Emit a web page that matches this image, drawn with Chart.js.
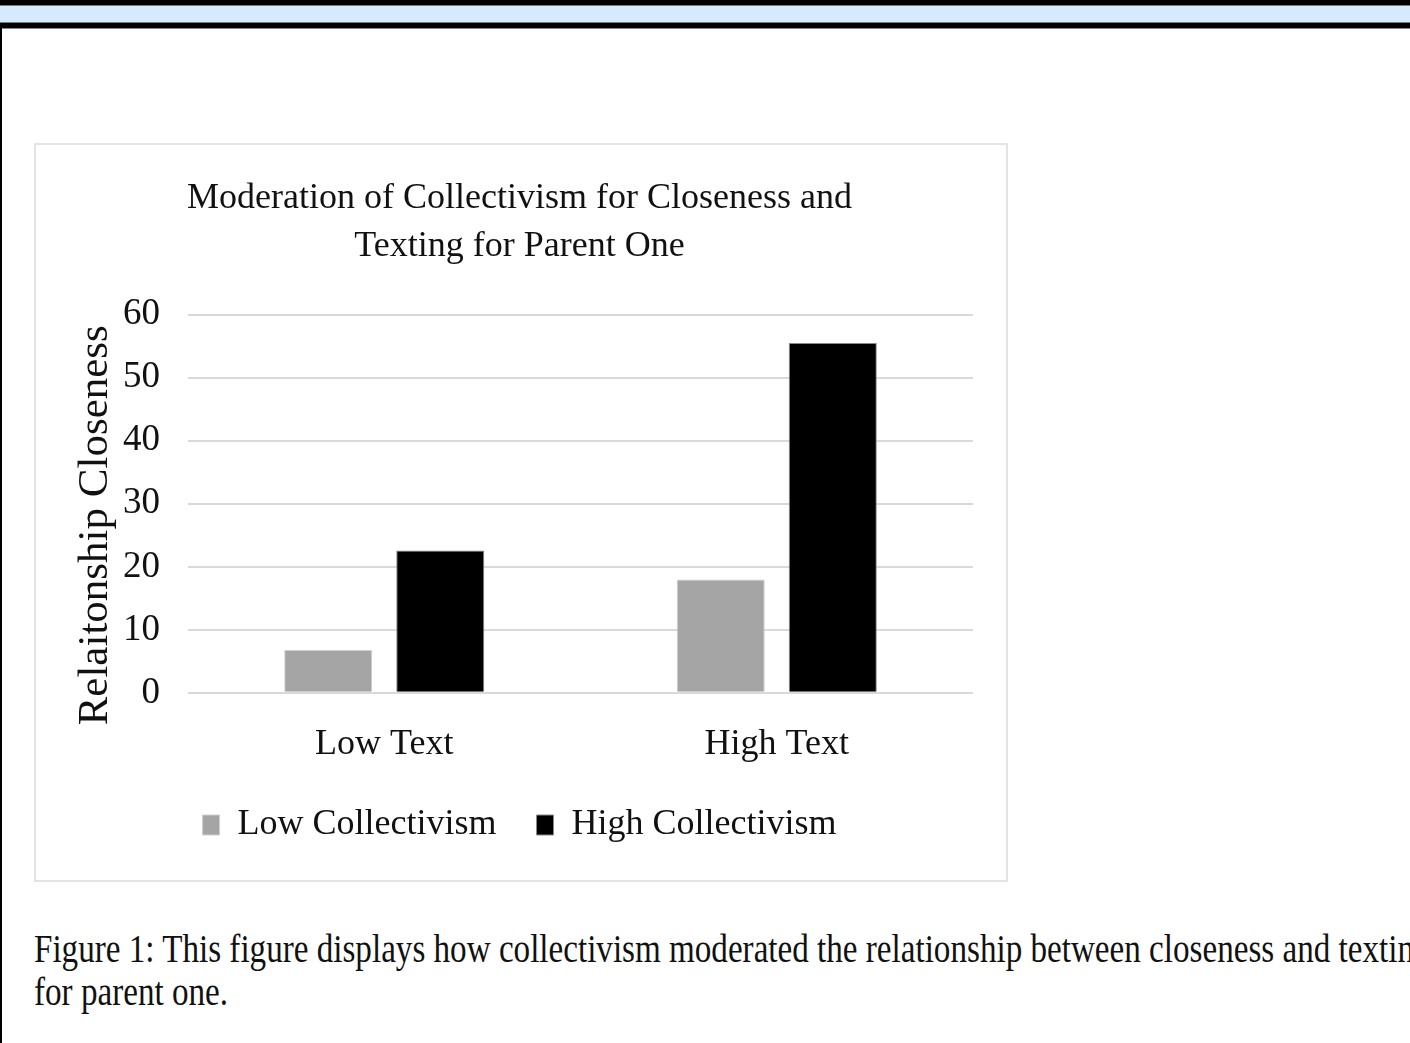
<!DOCTYPE html>
<html>
<head>
<meta charset="utf-8">
<script src="https://cdn.jsdelivr.net/npm/chart.js@4.4.1/dist/chart.umd.min.js"></script>
<style>
  html, body { margin: 0; padding: 0; background: #fff; width: 1410px; height: 1043px; overflow: hidden; position: relative; }
  #topbar { position: absolute; left: 0; top: 0; width: 1410px; height: 28px; background: #000; }
  #topbar .blue { position: absolute; left: 0; top: 5px; width: 1410px; height: 18px; background: #d6ebff; border-top: 1px solid #777; border-bottom: 1px solid #777; box-sizing: border-box; }
  #leftline { position: absolute; left: 0; top: 28px; width: 2px; height: 1015px; background: #000; }
  #topgray { position: absolute; left: 2px; top: 28px; width: 1408px; height: 1px; background: #888; }
  #box { position: absolute; left: 34px; top: 143px; width: 970px; height: 735px; border: 2px solid #e3e3e3; }
  #box canvas { display: block; }
  #caption { position: absolute; left: 34px; top: 927px; font-family: "Liberation Serif", "Times New Roman", serif; font-size: 40px; line-height: 43px; color: #111; white-space: nowrap; transform: scaleX(0.828); transform-origin: 0 0; }
</style>
</head>
<body>
<div id="topbar"><div class="blue"></div></div>
<div id="leftline"></div>
<div id="topgray"></div>
<div id="box"><canvas id="c" width="970" height="735"></canvas></div>
<div id="caption">Figure 1: This figure displays how collectivism moderated the relationship between closeness and texting<br>for parent one.</div>
<script>
const titleLines = ["Moderation of Collectivism for Closeness and", "Texting for Parent One"];
const categories = ["Low Text", "High Text"];
const seriesNames = ["Low Collectivism", "High Collectivism"];
const lowCollectivism = [6.8, 18.0];
const highCollectivism = [22.6, 55.5];
const yTicks = [0, 10, 20, 30, 40, 50, 60];
const yTitle = "Relaitonship Closeness";

const serif = "'Liberation Serif', 'Times New Roman', serif";

new Chart(document.getElementById('c'), {
  type: 'bar',
  data: {
    labels: categories,
    datasets: [
      { label: seriesNames[0], data: lowCollectivism, backgroundColor: '#a5a5a5', borderColor: '#d0d0d0', borderWidth: 1, categoryPercentage: 0.571, barPercentage: 0.786 },
      { label: seriesNames[1], data: highCollectivism, backgroundColor: '#000000', borderColor: '#8a8a8a', borderWidth: 1, categoryPercentage: 0.571, barPercentage: 0.786 }
    ]
  },
  options: {
    responsive: false,
    animation: false,
    layout: { padding: { left: 30, right: 33, top: 30, bottom: 27 } },
    plugins: {
      tooltip: { enabled: false },
      title: {
        display: true,
        text: titleLines,
        color: '#111',
        font: { family: serif, size: 36, weight: 'normal', lineHeight: 1.33 },
        padding: { top: 0, bottom: 44 }
      },
      legend: {
        position: 'bottom',
        labels: {
          color: '#111',
          font: { family: serif, size: 36 },
          boxWidth: 17,
          boxHeight: 20,
          padding: 40
        }
      }
    },
    scales: {
      x: {
        grid: { display: false },
        border: { display: false },
        ticks: { color: '#111', font: { family: serif, size: 36 }, padding: 22 },
        afterFit: (axis) => { axis.height = axis.height - 21; }
      },
      y: {
        min: 0,
        max: 60,
        afterBuildTicks: (axis) => { axis.ticks = yTicks.map(v => ({ value: v })); },
        afterFit: (axis) => { axis.width = 122; },
        grid: { color: '#d9d9d9', lineWidth: 2, drawTicks: false },
        border: { display: false },
        ticks: { color: '#111', font: { family: serif, size: 37 }, padding: 28 },
        title: { display: true, text: yTitle + "    ", color: '#111', font: { family: serif, size: 43 }, padding: { top: 4, bottom: 4 } }
      }
    }
  }
});
</script>
</body>
</html>
